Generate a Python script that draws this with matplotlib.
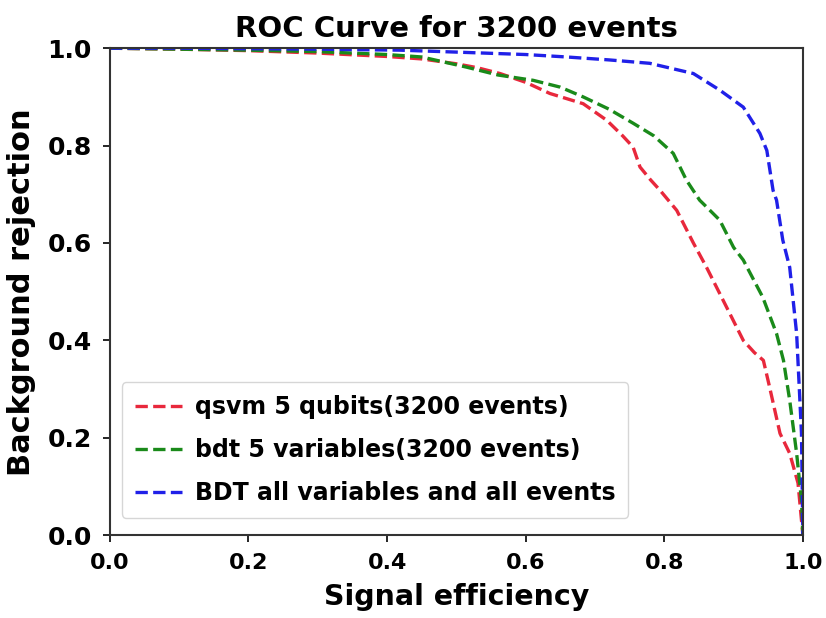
import numpy as np
import matplotlib
matplotlib.use("Agg")
import matplotlib.pyplot as plt

# qsvm 5 qubits (3200 events)
qsvm_eff = [0, 0.1, 0.2, 0.3, 0.4, 0.45, 0.5, 0.53, 0.563, 0.6, 0.635, 0.683, 0.717, 0.74, 0.755,
            0.765, 0.78, 0.794, 0.818, 0.842, 0.861, 0.89, 0.914, 0.93, 0.943, 0.952, 0.967, 0.981, 0.993, 1.0]
qsvm_rej = [1.0, 0.998, 0.995, 0.99, 0.983, 0.978, 0.968, 0.96, 0.948, 0.93, 0.907, 0.886, 0.852, 0.82, 0.797,
            0.756, 0.73, 0.708, 0.667, 0.6, 0.55, 0.468, 0.40, 0.375, 0.359, 0.304, 0.209, 0.168, 0.107, 0.0]

# bdt 5 variables (3200 events)
bdt5_eff = [0, 0.1, 0.2, 0.3, 0.4, 0.45, 0.515, 0.56, 0.611, 0.65, 0.683, 0.72, 0.755, 0.785, 0.813,
            0.832, 0.851, 0.861, 0.88, 0.9, 0.914, 0.942, 0.962, 0.972, 0.981, 0.991, 0.998, 1.0]
bdt5_rej = [1.0, 0.998, 0.996, 0.993, 0.987, 0.982, 0.961, 0.945, 0.934, 0.92, 0.9, 0.875, 0.846, 0.82, 0.784,
            0.729, 0.688, 0.674, 0.647, 0.591, 0.565, 0.489, 0.414, 0.359, 0.277, 0.168, 0.072, 0.0]

# BDT all variables and all events
bdtall_eff = [0, 0.1, 0.2, 0.3, 0.418, 0.5, 0.6, 0.659, 0.72, 0.779, 0.842, 0.88, 0.914, 0.938, 0.948,
              0.957, 0.962, 0.971, 0.981, 0.991, 0.998, 1.0]
bdtall_rej = [1.0, 1.0, 0.999, 0.998, 0.996, 0.992, 0.987, 0.982, 0.976, 0.969, 0.948, 0.914, 0.879, 0.825, 0.79,
              0.708, 0.688, 0.606, 0.55, 0.414, 0.209, 0.0]

plt.rcParams['font.family'] = ['DejaVu Sans']
plt.rcParams['font.weight'] = 'bold'

fig = plt.figure(figsize=(8.26, 6.18), dpi=100)
ax = fig.add_axes([0.133, 0.134, 0.839, 0.788])

ax.plot(qsvm_eff, qsvm_rej, '--', color='#e8283c', lw=2.4, label='qsvm 5 qubits(3200 events)')
ax.plot(bdt5_eff, bdt5_rej, '--', color='#1a8a1a', lw=2.4, label='bdt 5 variables(3200 events)')
ax.plot(bdtall_eff, bdtall_rej, '--', color='#2020e8', lw=2.4, label='BDT all variables and all events')

ax.set_xlim(0, 1)
ax.set_ylim(0, 1)
ax.set_xticks(np.arange(0, 1.01, 0.2))
ax.set_yticks(np.arange(0, 1.01, 0.2))
ax.tick_params(axis='x', labelsize=16, width=1.2, length=5, pad=8)
ax.tick_params(axis='y', labelsize=18, width=1.2, length=5, pad=8)
for lab in ax.get_xticklabels() + ax.get_yticklabels():
    lab.set_fontweight('bold')
for s in ax.spines.values():
    s.set_color('#333333')
    s.set_linewidth(1.5)

ax.set_xlabel('Signal efficiency', fontsize=20.5, fontweight='bold', labelpad=7)
ax.set_ylabel('Background rejection', fontsize=22, fontweight='bold', labelpad=8)
ax.set_title('ROC Curve for 3200 events', fontsize=21, fontweight='bold', pad=8)

leg = ax.legend(loc='lower left', prop={'weight': 'bold', 'size': 17},
                bbox_to_anchor=(0.017, 0.035), borderaxespad=0,
                labelspacing=0.8, handletextpad=0.55, borderpad=0.55)

fig.savefig('out.png', dpi=100)
